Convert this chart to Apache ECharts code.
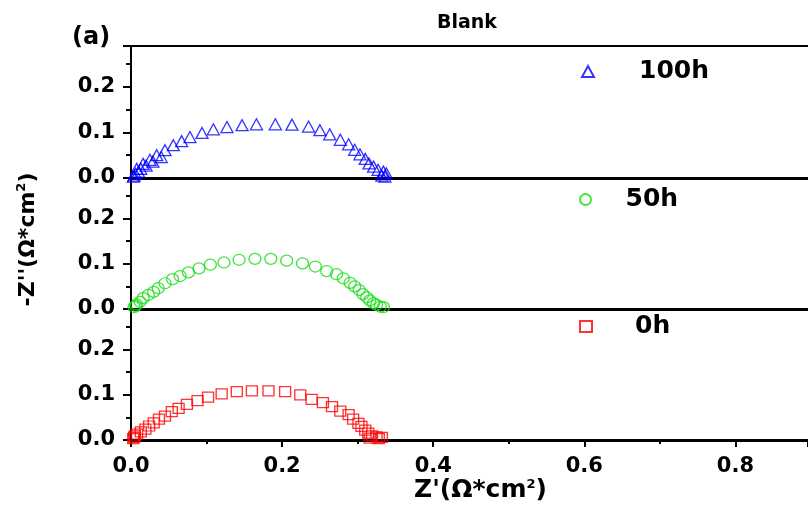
<!DOCTYPE html>
<html>
<head>
<meta charset="utf-8">
<script src="https://cdn.jsdelivr.net/npm/echarts@6/dist/echarts.min.js"></script>
<style>
  html, body { margin: 0; padding: 0; background: #fff; }
  #chart { width: 808px; height: 510px; }
</style>
</head>
<body>
<div id="chart"></div>
<script>
// Z' (Ω*cm2) and -Z'' (Ω*cm2)
const re100 = [0.003, 0.004, 0.006, 0.0075, 0.010, 0.013, 0.016, 0.020, 0.025, 0.029, 0.034, 0.040, 0.045, 0.056, 0.067, 0.078, 0.094, 0.109, 0.127, 0.147, 0.166, 0.191, 0.213, 0.235, 0.250, 0.263, 0.277, 0.288, 0.296, 0.303, 0.310, 0.315, 0.321, 0.327, 0.334, 0.338, 0.332, 0.336];
const im100 = [0.003, 0.005, 0.009, 0.020, 0.014, 0.020, 0.031, 0.027, 0.040, 0.036, 0.050, 0.046, 0.061, 0.072, 0.081, 0.090, 0.099, 0.107, 0.112, 0.116, 0.118, 0.118, 0.117, 0.113, 0.105, 0.096, 0.084, 0.074, 0.062, 0.052, 0.042, 0.032, 0.025, 0.018, 0.014, 0.010, 0.005, 0.003];

const re50 = [0.004, 0.006, 0.0075, 0.012, 0.016, 0.023, 0.030, 0.036, 0.045, 0.055, 0.065, 0.076, 0.090, 0.105, 0.123, 0.143, 0.164, 0.185, 0.206, 0.227, 0.244, 0.259, 0.272, 0.281, 0.290, 0.296, 0.302, 0.307, 0.312, 0.316, 0.321, 0.325, 0.330, 0.334];
const im50 = [0.004, 0.007, 0.010, 0.016, 0.024, 0.031, 0.038, 0.046, 0.057, 0.066, 0.073, 0.081, 0.090, 0.098, 0.103, 0.109, 0.111, 0.111, 0.107, 0.101, 0.094, 0.084, 0.077, 0.068, 0.058, 0.050, 0.042, 0.033, 0.026, 0.019, 0.013, 0.009, 0.005, 0.004];

const re0 = [0.003, 0.004, 0.005, 0.008, 0.013, 0.019, 0.024, 0.030, 0.037, 0.045, 0.054, 0.063, 0.074, 0.088, 0.102, 0.120, 0.140, 0.160, 0.182, 0.204, 0.224, 0.239, 0.254, 0.266, 0.277, 0.288, 0.294, 0.301, 0.305, 0.310, 0.314, 0.319, 0.325, 0.332, 0.316, 0.328];
const im0 = [0.003, 0.006, 0.009, 0.013, 0.018, 0.024, 0.031, 0.038, 0.046, 0.053, 0.063, 0.070, 0.079, 0.087, 0.095, 0.102, 0.107, 0.109, 0.109, 0.107, 0.100, 0.090, 0.083, 0.074, 0.064, 0.056, 0.046, 0.037, 0.030, 0.022, 0.015, 0.009, 0.007, 0.006, 0.004, 0.003];

const xTicksMax = 0.896;   // right edge of the picture
const yTicksMax = 0.29;

const pairs = (xs, ys) => xs.map((x, i) => [x, ys[i]]);

const FONT = 'DejaVu Sans';
const chart = echarts.init(document.getElementById('chart'));

const supStyle = { fontSize: 13, fontWeight: 'bold', fontFamily: FONT, color: '#000', verticalAlign: 'top', padding: [0, 0, 13, 0] };

function makeX(idx, last) {
  return {
    type: 'value',
    gridIndex: idx,
    min: 0,
    max: xTicksMax,
    interval: 0.2,
    axisLine: { show: true, onZero: false, lineStyle: { color: '#000', width: 3 } },
    axisTick: { show: last, length: 7, lineStyle: { color: '#000', width: 2 } },
    minorTick: { show: last, splitNumber: 2, length: 4, lineStyle: { color: '#000', width: 2 } },
    axisLabel: {
      show: last,
      showMaxLabel: false,
      margin: 16,
      color: '#000',
      fontFamily: FONT,
      fontWeight: 'bold',
      fontSize: 21,
      formatter: v => v.toFixed(1)
    },
    splitLine: { show: false },
    name: last ? "Z'(Ω*cm{sup|2})" : '',
    nameLocation: 'middle',
    nameGap: 37,
    nameTextStyle: {
      color: '#000',
      fontFamily: FONT,
      fontWeight: 'bold',
      fontSize: 25,
      padding: [0, 0, 0, 22],
      rich: { sup: supStyle }
    }
  };
}

function makeY(idx, withName) {
  return {
    type: 'value',
    gridIndex: idx,
    min: 0,
    max: yTicksMax,
    interval: 0.1,
    axisLine: { show: true, onZero: false, lineStyle: { color: '#000', width: 2 } },
    axisTick: { show: true, length: 8, lineStyle: { color: '#000', width: 2 } },
    minorTick: { show: true, splitNumber: 2, length: 5, lineStyle: { color: '#000', width: 2 } },
    axisLabel: {
      showMaxLabel: false,
      margin: 16,
      color: '#000',
      fontFamily: FONT,
      fontWeight: 'bold',
      fontSize: 21,
      formatter: v => v.toFixed(1)
    },
    splitLine: { show: false },
    name: withName ? "-Z''(Ω*cm{sup|2})" : '',
    nameLocation: 'middle',
    nameRotate: 90,
    nameGap: 90,
    nameTextStyle: {
      color: '#000',
      fontFamily: FONT,
      fontWeight: 'bold',
      fontSize: 22,
      padding: [0, 0, 0, 8],
      rich: { sup: supStyle }
    }
  };
}

function legendAt(name, left, top, pad) {
  return {
    data: [name],
    left: left,
    top: top,
    itemWidth: 12,
    itemHeight: 11,
    selectedMode: false,
    textStyle: {
      color: '#000',
      fontFamily: FONT,
      fontWeight: 'bold',
      fontSize: 25,
      padding: [0, 0, 0, pad]
    }
  };
}

function scatter(name, idx, data, symbol, size, color) {
  return {
    name: name,
    type: 'scatter',
    xAxisIndex: idx,
    yAxisIndex: idx,
    data: data,
    symbol: symbol,
    symbolSize: size,
    emphasis: { disabled: true },
    itemStyle: { color: 'transparent', borderColor: color, borderWidth: 1.3 }
  };
}

// top frame line of the first panel
const topFrame = {
  type: 'value',
  gridIndex: 0,
  position: 'top',
  min: 0,
  max: xTicksMax,
  axisLine: { show: true, onZero: false, lineStyle: { color: '#000', width: 2 } },
  axisTick: { show: false },
  axisLabel: { show: false },
  splitLine: { show: false }
};

var option = {
  backgroundColor: '#fff',
  animation: false,
  title: [
    { text: 'Blank', left: 462, top: 9, textAlign: 'center',
      textStyle: { color: '#000', fontFamily: FONT, fontWeight: 'bold', fontSize: 19 } },
    { text: '(a)', left: 67, top: 21,
      textStyle: { color: '#000', fontFamily: FONT, fontWeight: 'bold', fontSize: 24 } }
  ],
  grid: [
    { left: 131, top: 46, right: 0, height: 132 },
    { left: 131, top: 178, right: 0, height: 131 },
    { left: 131, top: 309, right: 0, height: 131 }
  ],
  legend: [
    legendAt('100h', 576, 54, 40),
    legendAt('50h', 574, 182, 29),
    legendAt('0h', 574, 309, 38)
  ],
  xAxis: [makeX(0, false), makeX(1, false), makeX(2, true), topFrame],
  yAxis: [makeY(0, false), makeY(1, true), makeY(2, false)],
  series: [
    scatter('100h', 0, pairs(re100, im100), 'triangle', [12, 11], '#0000ff'),
    scatter('50h', 1, pairs(re50, im50), 'circle', [12, 11], '#11dd11'),
    scatter('0h', 2, pairs(re0, im0), 'rect', [11, 10], '#ff0000')
  ]
};

chart.setOption(option);
</script>
</body>
</html>
